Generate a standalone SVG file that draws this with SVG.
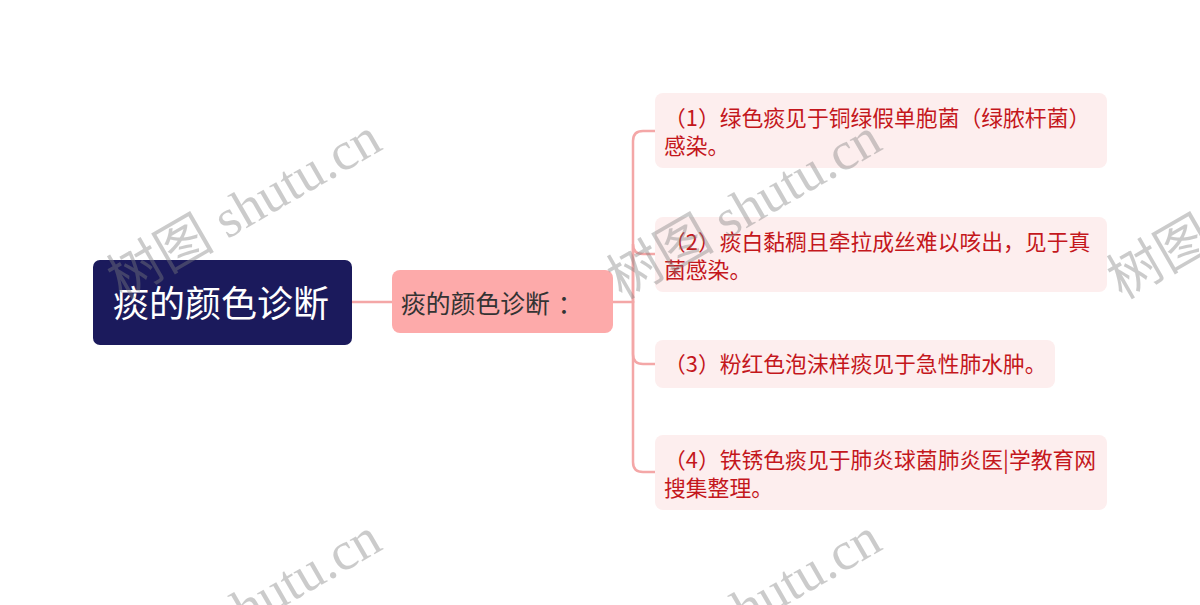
<svg xmlns="http://www.w3.org/2000/svg" width="1200" height="605" viewBox="0 0 1200 605">
<style>
.root{fill:#1b1a5c;}
.sub{fill:#fdaaaa;}
.leaf{fill:#fdeeee;}
.rt{font-family:"Noto Sans CJK SC","Noto Sans",sans-serif;font-size:36px;fill:#ffffff;text-anchor:middle;}
.st{font-family:"Noto Sans CJK SC","Noto Sans",sans-serif;font-size:24.8px;fill:#333333;}
.lt{font-family:"Noto Sans CJK SC","Noto Sans",sans-serif;font-size:21.8px;fill:#c4171c;}
.conn{fill:none;stroke:#f4a7a7;stroke-width:2.5;stroke-linecap:round;}
.wm{font-family:"Liberation Serif","Noto Sans CJK SC",serif;font-size:54px;fill:#808080;opacity:0.4;}
</style>
<rect width="1200" height="605" fill="#ffffff"/>
<g id="connectors">
<path class="conn" d="M352,302 H392"/>
<path class="conn" d="M613,302 H633"/>
<path class="conn" d="M633,302 V141 Q633,131 643,131 H655"/>
<path class="conn" d="M633,302 V244 Q633,254 643,254 H655"/>
<path class="conn" d="M633,302 V354 Q633,364 643,364 H655"/>
<path class="conn" d="M633,302 V462 Q633,472 643,472 H655"/>
</g>
<g id="root">
<rect class="root" x="93" y="260" width="259" height="85" rx="7"/>
<text class="rt" x="221" y="317">痰的颜色诊断</text>
</g>
<g id="sub">
<rect class="sub" x="392" y="270" width="221" height="63" rx="8"/>
<text class="st" x="401" y="313">痰的颜色诊断<tspan dx="8">：</tspan></text>
</g>
<g id="leaf1">
<rect class="leaf" x="655" y="93" width="452" height="75" rx="8"/>
<text class="lt" x="664" y="126">（1）绿色痰见于铜绿假单胞菌（绿脓杆菌）</text>
<text class="lt" x="664" y="154">感染。</text>
</g>
<g id="leaf2">
<rect class="leaf" x="655" y="217" width="452" height="75" rx="8"/>
<text class="lt" x="664" y="250">（2）痰白黏稠且牵拉成丝难以咳出，见于真</text>
<text class="lt" x="664" y="278">菌感染。</text>
</g>
<g id="leaf3">
<rect class="leaf" x="655" y="340" width="400" height="48" rx="8"/>
<text class="lt" x="664" y="372">（3）粉红色泡沫样痰见于急性肺水肿。</text>
</g>
<g id="leaf4">
<rect class="leaf" x="655" y="435" width="452" height="75" rx="8"/>
<text class="lt" x="664" y="468">（4）铁锈色痰见于肺炎球菌肺炎医|学教育网</text>
<text class="lt" x="664" y="496">搜集整理。</text>
</g>
<g id="watermark">
<text class="wm" transform="translate(122,300) rotate(-30)">树图 shutu.cn</text>
<text class="wm" transform="translate(622,300) rotate(-30)">树图 shutu.cn</text>
<text class="wm" transform="translate(1122,300) rotate(-30)">树图 shutu.cn</text>
<text class="wm" transform="translate(122,700) rotate(-30)">树图 shutu.cn</text>
<text class="wm" transform="translate(622,700) rotate(-30)">树图 shutu.cn</text>
</g>
</svg>
